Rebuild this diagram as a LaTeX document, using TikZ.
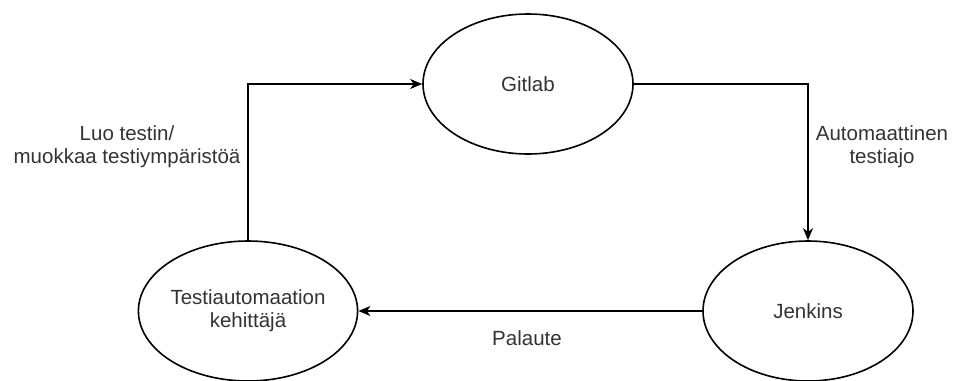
\documentclass[tikz,border=0pt]{standalone}
\usepackage{fontspec}
\setmainfont{Liberation Sans}
\usetikzlibrary{shapes.geometric,arrows.meta}
\begin{document}
\begin{tikzpicture}[x=1pt,y=-1pt,
  state/.style={ellipse,draw=black,line width=1.6pt,fill=white,
    minimum width=210pt,minimum height=140pt,inner sep=0pt,
    text=black!80,font=\fontsize{20.5}{23}\selectfont,align=center},
  flow/.style={draw=black,line width=1.6pt,
    -{Stealth[length=12pt,width=10pt,inset=3.5pt]}},
  lbl/.style={text=black!80,font=\fontsize{20.5}{23}\selectfont,align=center}]
  \useasboundingbox (0,0) rectangle (955,380);
  \node[state] (gitlab) at (528,84) {Gitlab};
  \node[state] (tester) at (248,311) {Testiautomaation\\kehittäjä};
  \node[state] (jenkins) at (808,311) {Jenkins};
  \draw[flow] (tester.north) |- (gitlab.west);
  \draw[flow] (gitlab.east) -| (jenkins.north);
  \draw[flow] (jenkins.west) -- (tester.east);
  \node[lbl] (l1) at (127,146.5) {Luo testin/\\muokkaa testiympäristöä};
  \node[lbl] (l2) at (882,146.5) {Automaattinen\\testiajo};
  \node[lbl] (l3) at (527,338) {Palaute};
\end{tikzpicture}
\end{document}
